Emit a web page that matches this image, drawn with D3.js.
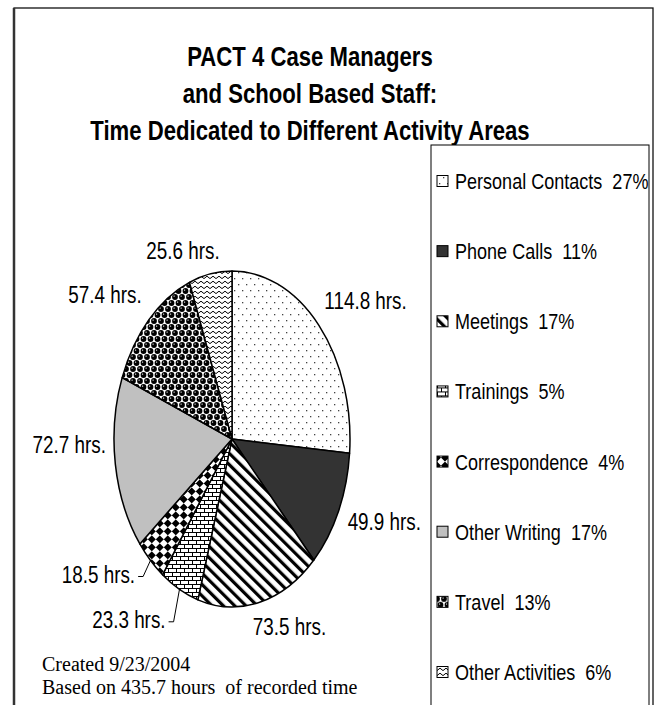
<!DOCTYPE html>
<html><head><meta charset="utf-8">
<script src="https://cdn.jsdelivr.net/npm/d3@7"></script>
<style>html,body{margin:0;padding:0;background:#fff;}svg{display:block;}</style>
</head><body>
<svg id="chart" width="660" height="705"></svg>
<script>
// ---- data ----
const categories = ["Personal Contacts","Phone Calls","Meetings","Trainings","Correspondence","Other Writing","Travel","Other Activities"];
const hours = [114.8, 49.9, 73.5, 23.3, 18.5, 72.7, 57.4, 25.6];
const percentLabels = ["27%","11%","17%","5%","4%","17%","13%","6%"];
const titleLines = ["PACT 4 Case Managers","and School Based Staff:","Time Dedicated to Different Activity Areas"];
const noteLines = ["Created 9/23/2004","Based on 435.7 hours  of recorded time"];
const patternIds = ["pDots","pSolidDark","pStripes","pBrick","pDiamond","pSolidLight","pBalls","pZigzag"];
// small label nudges (px) relative to computed outside placement
const labelNudge = [[6,-7],[0,0],[18,0],[-28,8],[-17,-4],[4,-23],[-8,-7],[-18,2]];
const leaderIdx = [3,4];

// ---- font detection ----
function hasFont(name){
  const c=document.createElement("canvas").getContext("2d");
  c.font='40px monospace'; const a=c.measureText("abcdefghijWMil 0123").width;
  c.font='40px "'+name+'", monospace'; const b=c.measureText("abcdefghijWMil 0123").width;
  return Math.abs(a-b)>0.5;
}
const narrowOK = hasFont("Liberation Sans Narrow");
const NARROW = narrowOK ? '"Liberation Sans Narrow","Arial Narrow",sans-serif' : '"Liberation Sans",Arial,sans-serif';
const squeeze = narrowOK ? 1 : 0.82;

const svg = d3.select("#chart");
const defs = svg.append("defs");

// ---- patterns ----
function pat(id,w,h,transform){
  const p=defs.append("pattern").attr("id",id).attr("patternUnits","userSpaceOnUse").attr("width",w).attr("height",h);
  if(transform) p.attr("patternTransform",transform);
  return p;
}
let p;
p=pat("pDots",8,12); p.append("rect").attr("width",8).attr("height",12).attr("fill","#fff");
p.append("rect").attr("x",2).attr("y",2).attr("width",1.3).attr("height",1.3).attr("fill","#444");
p.append("rect").attr("x",6).attr("y",8).attr("width",1.3).attr("height",1.3).attr("fill","#444");
p=pat("pSolidDark",4,4); p.append("rect").attr("width",4).attr("height",4).attr("fill","#333");
p=pat("pStripes",8,8,"rotate(-45)"); p.append("rect").attr("width",8).attr("height",8).attr("fill","#fff");
p.append("rect").attr("width",3.2).attr("height",8).attr("fill","#000");
p=pat("pBrick",8,8); p.append("rect").attr("width",8).attr("height",8).attr("fill","#fff");
p.append("path").attr("d","M0,0.5H8M0,4.5H8M0.5,0.5V4.5M4.5,4.5V8.5").attr("stroke","#000").attr("stroke-width",1).attr("fill","none");
p=pat("pDiamond",11.3,11.3,"rotate(45)"); p.append("rect").attr("width",11.3).attr("height",11.3).attr("fill","#fff");
p.append("rect").attr("width",5.65).attr("height",5.65).attr("fill","#000");
p.append("rect").attr("x",5.65).attr("y",5.65).attr("width",5.65).attr("height",5.65).attr("fill","#000");
p=pat("pSolidLight",4,4); p.append("rect").attr("width",4).attr("height",4).attr("fill","#c0c0c0");
p=pat("pBalls",7,12); p.append("rect").attr("width",7).attr("height",12).attr("fill","#fff");
[[3.5,3],[0,9],[7,9]].forEach(c=>{
  p.append("circle").attr("cx",c[0]).attr("cy",c[1]).attr("r",2.9).attr("fill","#000");
  p.append("circle").attr("cx",c[0]-0.9).attr("cy",c[1]-0.9).attr("r",0.7).attr("fill","#fff");
});
p=pat("pZigzag",6,5); p.append("rect").attr("width",6).attr("height",5).attr("fill","#fff");
p.append("path").attr("d","M0,3.6L3,1.2L6,3.6").attr("stroke","#000").attr("stroke-width",1).attr("fill","none");

// ---- frame ----
svg.append("rect").attr("x",14).attr("y",8).attr("width",639).attr("height",720)
  .attr("fill","none").attr("stroke","#111").attr("stroke-width",1.3);
svg.append("line").attr("x1",14).attr("x2",14).attr("y1",8).attr("y2",705)
  .attr("stroke","#333").attr("stroke-width",2.5);

// ---- title ----
const title = svg.append("g").attr("font-family",NARROW).attr("font-weight","bold").attr("font-size",27).attr("fill","#000");
titleLines.forEach((t,i)=>{
  title.append("text").attr("text-anchor","middle")
    .attr("transform",`translate(310,${66+i*37}) scale(${squeeze},1)`).text(t);
});

// ---- pie ----
const cx=232, cy=439, rx=118, ry=168;
const xS=d3.scaleLinear().domain([-1,1]).range([cx-rx,cx+rx]);
const yS=d3.scaleLinear().domain([-1,1]).range([cy-ry,cy+ry]);
const pie=d3.pie().sort(null).value(d=>d)(hours);
const ex=a=>xS(Math.sin(a)), ey=a=>yS(-Math.cos(a));
function slicePath(d){
  const large=(d.endAngle-d.startAngle)>Math.PI?1:0;
  return `M${cx},${cy}L${ex(d.startAngle)},${ey(d.startAngle)}A${rx},${ry} 0 ${large} 1 ${ex(d.endAngle)},${ey(d.endAngle)}Z`;
}
svg.append("g").selectAll("path").data(pie).join("path")
  .attr("d",slicePath).attr("fill",(d,i)=>`url(#${patternIds[i]})`)
  .attr("stroke","#000").attr("stroke-width",1.5).attr("stroke-linejoin","round");

// ---- pie labels ----
const fmt=d3.format(".1f");
const lblG=svg.append("g").attr("font-family",NARROW).attr("font-size",23).attr("fill","#000");
pie.forEach((d,i)=>{
  const a=(d.startAngle+d.endAngle)/2, s=Math.sin(a), c=-Math.cos(a);
  const txt=fmt(hours[i])+" hrs.";
  const t=lblG.append("text").text(txt);
  const w=t.node().getComputedTextLength()*squeeze, h=22;
  const px=cx+s*(rx+14), py=cy+c*(ry+14);
  const mx=px+s*w/2+labelNudge[i][0], my=py+c*h/2+labelNudge[i][1];
  t.attr("text-anchor","middle").attr("transform",`translate(${mx},${my+8}) scale(${squeeze},1)`);
  if(leaderIdx.includes(i)){
    const x0=mx+w/2+3, y0=my+2;
    svg.append("path").attr("d",`M${x0},${y0}H${x0+5}L${ex(a)},${ey(a)}`)
      .attr("fill","none").attr("stroke","#000").attr("stroke-width",1);
  }
});

// ---- legend ----
svg.append("rect").attr("x",431).attr("y",145).attr("width",218).attr("height",600)
  .attr("fill","#fff").attr("stroke","#000").attr("stroke-width",1);
const legY=d3.scalePoint().domain(categories).range([181,672]);
const leg=svg.append("g").selectAll("g").data(categories).join("g")
  .attr("transform",d=>`translate(437,${legY(d)})`);
leg.append("rect").attr("x",0).attr("y",-5.5).attr("width",11).attr("height",11)
  .attr("fill",(d,i)=>`url(#${patternIds[i]})`).attr("stroke","#000").attr("stroke-width",1);
leg.append("text").attr("font-family",NARROW).attr("font-size",22).attr("fill","#000")
  .attr("transform",`translate(18,8) scale(${squeeze},1)`)
  .attr("xml:space","preserve").style("white-space","pre")
  .text((d,i)=>d+"  "+percentLabels[i]);

// ---- footnote ----
const note=svg.append("g").attr("font-family",'"Liberation Serif","Times New Roman",serif').attr("font-size",20).attr("fill","#000");
noteLines.forEach((t,i)=>{
  note.append("text").attr("x",42).attr("y",671+i*23).style("white-space","pre").text(t);
});
</script>
</body></html>
